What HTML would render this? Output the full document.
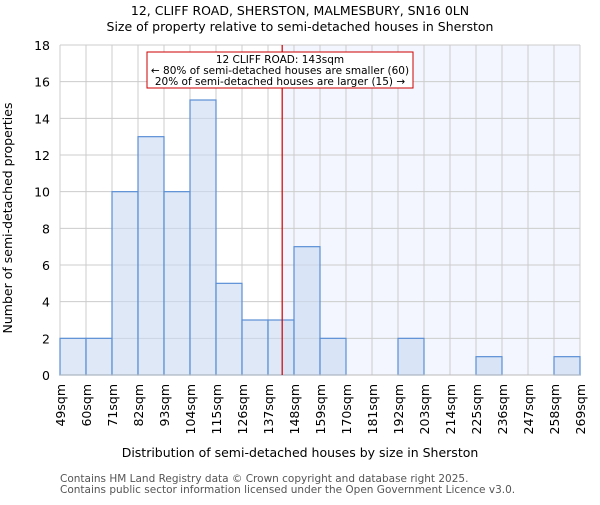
<!DOCTYPE html>
<html><head><meta charset="utf-8"><style>body{margin:0;background:#fff}svg text{font-family:"DejaVu Sans","Liberation Sans",sans-serif}</style></head><body>
<svg id="c" width="600" height="500" xmlns="http://www.w3.org/2000/svg">
<text x="300" y="15" text-anchor="middle" font-size="12.5">12, CLIFF ROAD, SHERSTON, MALMESBURY, SN16 0LN</text>
<text x="300" y="31" text-anchor="middle" font-size="12.5">Size of property relative to semi-detached houses in Sherston</text>
<g id="plot"></g>
<text x="300" y="457" text-anchor="middle" font-size="12.5">Distribution of semi-detached houses by size in Sherston</text>
<text x="12" y="218" text-anchor="middle" font-size="12.5" transform="rotate(-90 12 218)">Number of semi-detached properties</text>
<text x="60" y="482" font-size="10.5" fill="#555">Contains HM Land Registry data © Crown copyright and database right 2025.</text>
<text x="60" y="493" font-size="10.5" fill="#555">Contains public sector information licensed under the Open Government Licence v3.0.</text>
</svg>
<script>
const binEdges=[49,60,71,82,93,104,115,126,137,148,159,170,181,192,203,214,225,236,247,258,269];
const counts=[2,2,10,13,10,15,5,3,3,7,2,0,0,2,0,0,1,0,0,1];
const yTicks=[0,2,4,6,8,10,12,14,16,18];
const propertySize=143;
const X0=60,X1=580,Y0=375,Y1=45,xmin=49,xmax=269,ymax=18;
const sx=v=>X0+(v-xmin)/(xmax-xmin)*(X1-X0);
const sy=v=>Y0-v/ymax*(Y0-Y1);
const NS="http://www.w3.org/2000/svg";
const g=document.getElementById('plot');
function mk(t,a){const e=document.createElementNS(NS,t);for(const k in a)e.setAttribute(k,a[k]);g.appendChild(e);return e;}
const hl=mk('rect',{x:sx(propertySize),y:Y1,width:X1-sx(propertySize),height:Y0-Y1,fill:'#f3f6fe'});


binEdges.forEach(v=>{const l=mk('line',{x1:sx(v),x2:sx(v),y1:Y1,y2:Y0,stroke:'#cccccc'});

});
yTicks.forEach(v=>{const l=mk('line',{x1:X0,x2:X1,y1:sy(v),y2:sy(v),stroke:'#cccccc'});


const t=mk('text',{x:X0-10,y:sy(v)+5,'text-anchor':'end','font-size':12.5});t.textContent=v;

});
counts.forEach((c,i)=>{if(!c)return;const b=mk('rect',{x:sx(binEdges[i]),y:sy(c),width:sx(binEdges[i+1])-sx(binEdges[i]),height:Y0-sy(c),fill:'rgba(200,216,240,0.6)',stroke:'#5b8fd6','stroke-width':1.2});

});
binEdges.forEach(v=>{const x=sx(v)+5,y=384;const t=mk('text',{x:x,y:y,'text-anchor':'end','font-size':12.5,transform:`rotate(-90 ${x} ${y})`});t.textContent=v+'sqm';

});
const ax=mk('line',{x1:X0,x2:X1,y1:Y0,y2:Y0,stroke:'#bbbbbb'});


const rl=mk('line',{x1:sx(propertySize),x2:sx(propertySize),y1:Y1,y2:Y0,stroke:'#cc0000','stroke-width':1.2});


const bx=mk('rect',{x:147,y:52,width:266,height:36,fill:'#fff',stroke:'#cc0000'});


['12 CLIFF ROAD: 143sqm','← 80% of semi-detached houses are smaller (60)','20% of semi-detached houses are larger (15) →'].forEach((s,i)=>{const t=mk('text',{x:280,y:63+i*11,'text-anchor':'middle','font-size':10.5});t.textContent=s;

});
</script>
</body></html>
